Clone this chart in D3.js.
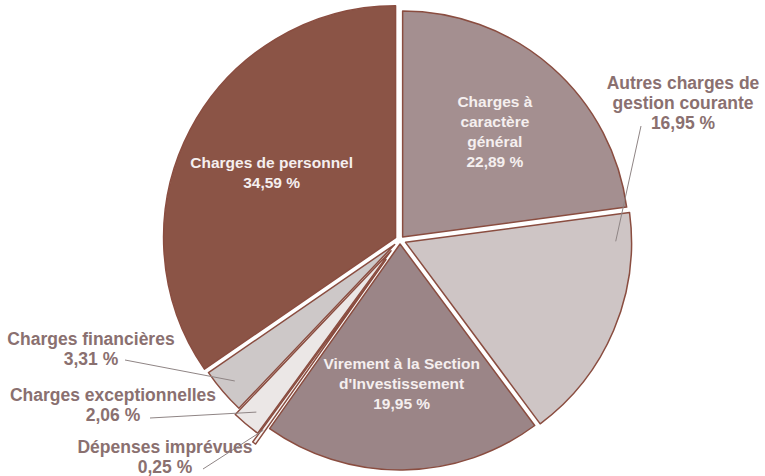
<!DOCTYPE html>
<html>
<head>
<meta charset="utf-8">
<script src="https://cdn.jsdelivr.net/npm/d3@7"></script>
<style>
  body { margin: 0; background: #fff; }
  text { font-family: "Liberation Sans", Arial, sans-serif; font-weight: bold; }
</style>
</head>
<body>
<div id="chart"></div>
<script>
//Chart data, clockwise from 12 o'clock.
const categories = [
  "Charges à caractère général",
  "Autres charges de gestion courante",
  "Virement à la Section d'Investissement",
  "Dépenses imprévues",
  "Charges exceptionnelles",
  "Charges financières",
  "Charges de personnel"
];
const shares = [22.89, 16.95, 19.95, 0.25, 2.06, 3.31, 34.59];
const labelLines = [
  ["Charges à", "caractère", "général"],
  ["Autres charges de", "gestion courante"],
  ["Virement à la Section", "d'Investissement"],
  ["Dépenses imprévues"],
  ["Charges exceptionnelles"],
  ["Charges financières"],
  ["Charges de personnel"]
];

//Svg size and pie center.
const width = 765;
const height = 476;
const cx = 400, cy = 240;
const radius = 226;

//Styles per slice (same order as categories).
const fills = ["#a48f90", "#cec5c5", "#9b8587", "#f6f3f2", "#ebe7e6", "#cdc8c8", "#8b5446"];
const explode = [4, 6, 4, 24, 14, 7, 5];
const radii = [radius, radius, radius, radius, radius, radius, radius + 6];
//inside: label in slice at radius r; outside: label at (x,y) with a leader line.
const labelCfg = [
  { inside: true, r: 140 },
  { inside: false, x: 683, y: 89, lx: 641, ly: 126, frac: 0.12 },
  { inside: true, r: 140 },
  { inside: false, x: 165, y: 453, lx: 203, ly: 469, frac: 0.5 },
  { inside: false, x: 113, y: 401, lx: 150, ly: 418, frac: 0.5 },
  { inside: false, x: 91, y: 345, lx: 125, ly: 360, frac: 0.5 }
  ,{ inside: true, r: 140 }
];

const fmt = v => d3.format(".2f")(v).replace(".", ",") + " %";

const svg = d3.select("#chart")
  .append("svg")
  .attr("width", width)
  .attr("height", height);

const pie = d3.pie()
  .sort(null)
  .value(d => d.value);

const data = categories.map((c, i) => ({ name: c, value: shares[i], i: i }));
const arcs = pie(data);

const g = svg.append("g")
  .attr("transform", `translate(${cx},${cy})`);

//Offset of each slice along its middle angle.
function offset(a) {
  const mid = (a.startAngle + a.endAngle) / 2;
  const e = explode[a.data.i];
  return [Math.sin(mid) * e, -Math.cos(mid) * e];
}

//Draw the slices.
g.selectAll("path.slice")
  .data(arcs)
  .enter()
  .append("path")
  .attr("class", "slice")
  .attr("transform", d => `translate(${offset(d)})`)
  .attr("d", d => d3.arc().innerRadius(0).outerRadius(radii[d.data.i])(d))
  .attr("fill", d => fills[d.data.i])
  .attr("stroke", "#8a4d40")
  .attr("stroke-width", 1.5)
  .attr("stroke-linejoin", "round");

//Labels inside the big slices.
arcs.filter(d => labelCfg[d.data.i].inside).forEach(d => {
  const cfg = labelCfg[d.data.i];
  const mid = (d.startAngle + d.endAngle) / 2;
  const o = offset(d);
  const x = cx + o[0] + Math.sin(mid) * cfg.r;
  const y = cy + o[1] - Math.cos(mid) * cfg.r;
  const lines = labelLines[d.data.i].concat([fmt(d.data.value)]);
  const t = svg.append("text")
    .attr("text-anchor", "middle")
    .attr("fill", "#f5efef")
    .attr("font-size", 15.5);
  lines.forEach((s, k) => {
    t.append("tspan")
      .attr("x", x)
      .attr("y", y + (k - (lines.length - 1) / 2) * 20 + 5)
      .text(s);
  });
});

//Labels outside the small slices, with leader lines.
arcs.filter(d => !labelCfg[d.data.i].inside).forEach(d => {
  const cfg = labelCfg[d.data.i];
  const ang = d.startAngle + (d.endAngle - d.startAngle) * cfg.frac;
  const o = offset(d);
  const r = radii[d.data.i] * 0.93;
  const ex = cx + o[0] + Math.sin(ang) * r;
  const ey = cy + o[1] - Math.cos(ang) * r;
  svg.append("path")
    .attr("d", `M${cfg.lx},${cfg.ly}L${ex},${ey}`)
    .attr("fill", "none")
    .attr("stroke", "#8f8585")
    .attr("stroke-width", 1);
  const lines = labelLines[d.data.i].concat([fmt(d.data.value)]);
  const t = svg.append("text")
    .attr("text-anchor", "middle")
    .attr("fill", "#8a7070")
    .attr("font-size", 17.5);
  lines.forEach((s, k) => {
    t.append("tspan")
      .attr("x", cfg.x)
      .attr("y", cfg.y + k * 20)
      .text(s);
  });
});
</script>
</body>
</html>
